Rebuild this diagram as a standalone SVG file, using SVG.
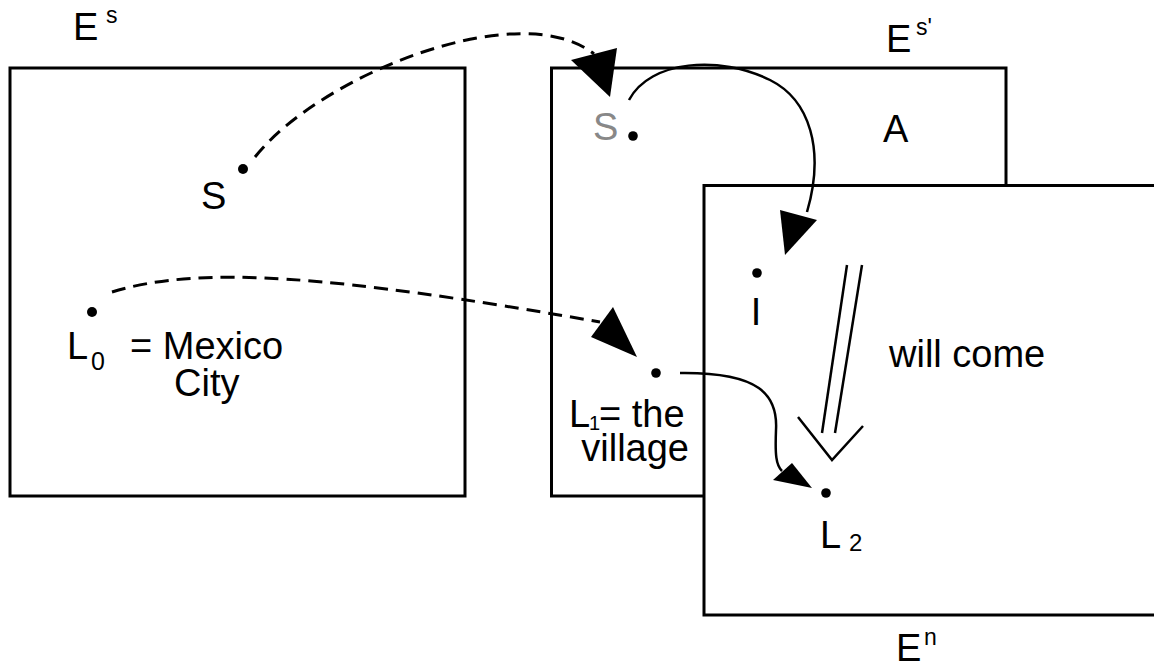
<svg xmlns="http://www.w3.org/2000/svg" width="1154" height="667" viewBox="0 0 1154 667">
<style>
.box{fill:#fff;stroke:#000;stroke-width:3}
.t{font-family:"Liberation Sans",Arial,sans-serif;font-size:38px;fill:#000}
.sm{font-family:"Liberation Sans",Arial,sans-serif;font-size:23px;fill:#000}
.dot{fill:#000}
.dash{fill:none;stroke:#000;stroke-width:3;stroke-dasharray:14 8}
.solid{fill:none;stroke:#000;stroke-width:2.5}
.head{fill:#000;stroke:none}
</style>
<rect width="1154" height="667" fill="#fff"/>
<g id="Es">
<rect class="box" x="10" y="68" width="455" height="428"/>
<text class="t" x="73" y="40">E</text><text class="sm" x="106" y="23">s</text>
</g>
<g id="Esp">
<rect class="box" x="551.5" y="68" width="454.5" height="428"/>
<text class="t" x="886" y="52">E</text><text class="sm" x="916" y="35">s'</text>
<text class="t" x="883" y="142">A</text>
</g>
<g id="En">
<rect class="box" x="704" y="185.5" width="470" height="429.5"/>
<text class="t" x="896" y="661">E</text><text class="sm" x="924" y="645">n</text>
</g>
<g id="S">
<circle class="dot" cx="243" cy="169" r="5"/>
<text class="t" x="201" y="209">S</text>
</g>
<g id="Sp">
<circle class="dot" cx="633" cy="136" r="4.8"/>
<text class="t" x="593" y="140" style="fill:#888">S</text>
</g>
<g id="I">
<circle class="dot" cx="757" cy="273" r="4.8"/>
<text class="t" x="756" y="325" text-anchor="middle">I</text>
</g>
<g id="L0">
<circle class="dot" cx="92" cy="312" r="5"/>
<text class="t" x="67" y="359">L</text><text class="sm" x="91" y="370" style="font-size:25px">0</text>
<text class="t" x="130" y="359">= Mexico</text>
<text class="t" x="174" y="396">City</text>
</g>
<g id="L1">
<circle class="dot" cx="656" cy="373" r="4.8"/>
<text class="t" x="569" y="427">L</text><text class="sm" x="589" y="430" style="font-size:20px">1</text>
<text class="t" x="599" y="427">= the</text>
<text class="t" x="689" y="461" text-anchor="end">village</text>
</g>
<g id="L2">
<circle class="dot" cx="826" cy="493" r="4.8"/>
<text class="t" x="820" y="548">L</text><text class="sm" x="849" y="551" style="font-size:24px">2</text>
</g>
<g id="willcome">
<text class="t" x="889" y="367">will come</text>
</g>
<g id="connectors">
<path class="dash" d="M255,157 C320,75 520,-5 594,54"/>
<polygon class="head" points="571,60 617,48 610,97"/>
<path class="dash" d="M112,292 C200,265 330,275 600,322"/>
<polygon class="head" points="591,337 613,307 637,357"/>
<path class="solid" d="M629,100 C650,60 720,55 770,80 C810,100 825,150 807,212"/>
<polygon class="head" points="780,210 817,220 785,255"/>
<path class="solid" d="M680,373 C760,372 778,395 776,430 C775,455 776,465 782,471"/>
<polygon class="head" points="773,480 792,463 812,488"/>
<line class="solid" x1="847" y1="265" x2="822" y2="433"/>
<line class="solid" x1="862" y1="265" x2="835" y2="433"/>
<polyline class="solid" points="798,417 832,460 863,426"/>
</g>
</svg>
